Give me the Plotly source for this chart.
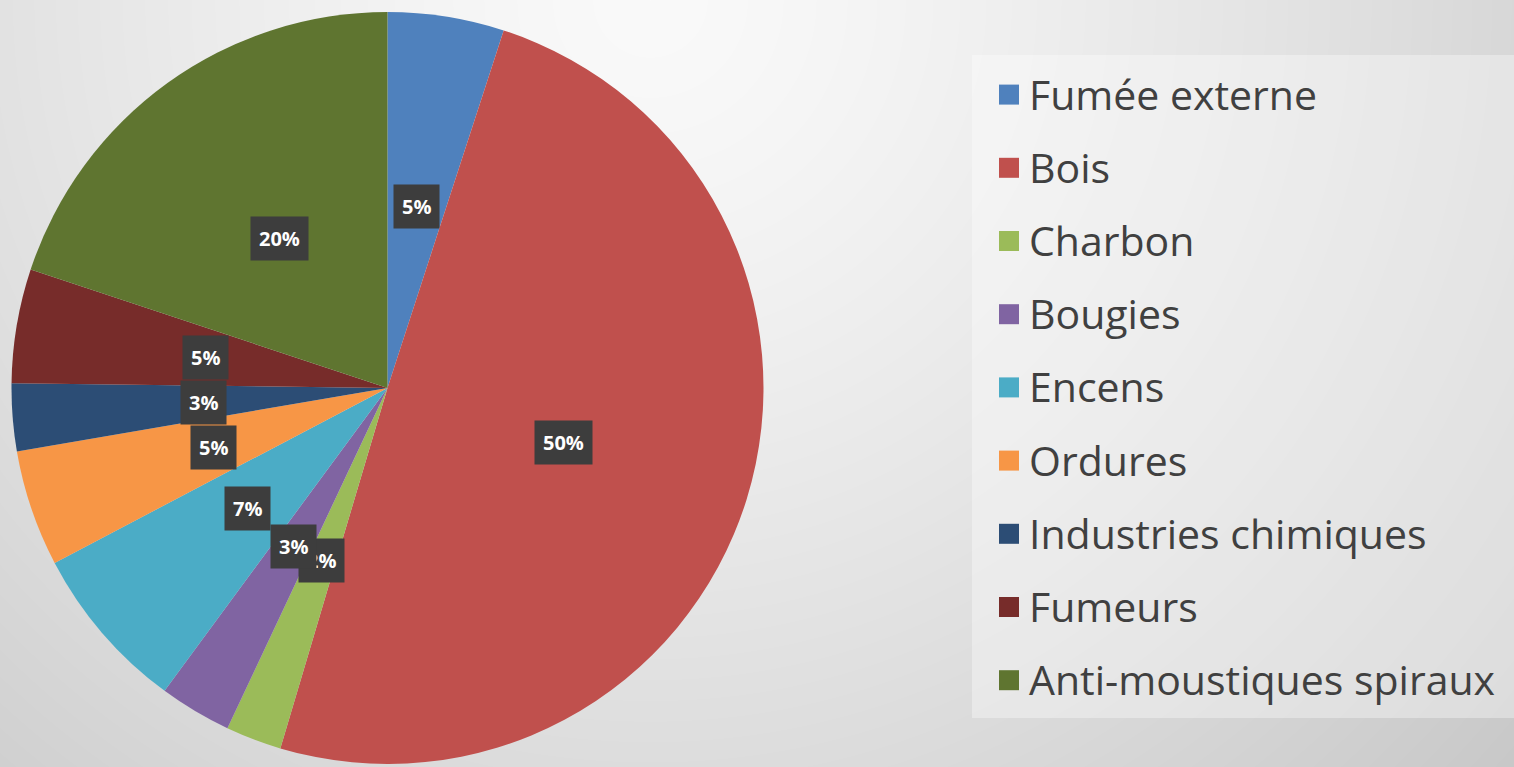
import math, zlib, struct, base64
import numpy as np
import plotly.graph_objects as go

# ---- data ----
categories = ["Fumée externe", "Bois", "Charbon", "Bougies", "Encens", "Ordures",
              "Industries chimiques", "Fumeurs", "Anti-moustiques spiraux"]
values = [5.0, 49.6, 2.4, 3.1, 7.2, 5.0, 2.9, 4.9, 19.9]
colors = ["#4F81BD", "#C0504D", "#9BBB59", "#8064A2", "#4BACC6", "#F79646",
          "#2C4D75", "#772C2A", "#5F7530"]

W, H = 1514, 767

# ---- background gradient image ----
yy, xx = np.mgrid[0:H, 0:W].astype(float)
d = np.sqrt((xx - 650) ** 2 + (yy - 0) ** 2)
bg = 250 - 52 * (d / 1194) ** 1.3
bg = np.clip(bg, 0, 255).astype(np.uint8)

def png_gray(arr):
    h, w = arr.shape
    raw = b"".join(b"\x00" + arr[i].tobytes() for i in range(h))
    def chunk(t, dat):
        c = struct.pack(">I", len(dat)) + t + dat
        return c + struct.pack(">I", zlib.crc32(t + dat) & 0xffffffff)
    return (b"\x89PNG\r\n\x1a\n" + chunk(b"IHDR", struct.pack(">IIBBBBB", w, h, 8, 0, 0, 0, 0))
            + chunk(b"IDAT", zlib.compress(raw, 9)) + chunk(b"IEND", b""))

bg_uri = "data:image/png;base64," + base64.b64encode(png_gray(bg)).decode()

# ---- pie geometry (pixels) ----
pie_x0, pie_x1 = 11, 764
pie_y0, pie_y1 = 12, 764
cx_px = (pie_x0 + pie_x1) / 2
cy_px = (pie_y0 + pie_y1) / 2
R = min(pie_x1 - pie_x0, pie_y1 - pie_y0) / 2

legend_labels = ['<span style="font-size:41px">%s</span>' % c for c in categories]

fig = go.Figure(go.Pie(
    labels=legend_labels,
    values=values,
    sort=False,
    direction="clockwise",
    rotation=0,
    marker=dict(colors=colors, line=dict(width=0)),
    textinfo="none",
    hoverinfo="label+percent",
    domain=dict(x=[pie_x0 / W, pie_x1 / W], y=[1 - pie_y1 / H, 1 - pie_y0 / H]),
))

# ---- percentage labels (computed from the data) ----
total = sum(values)
cum = 0.0
annotations = []
for v in values:
    mid = (cum + v / 2) / total * 2 * math.pi
    cum += v
    px = cx_px + 0.49 * R * math.sin(mid)
    py = cy_px - 0.49 * R * math.cos(mid)
    annotations.append(dict(
        x=px / W, y=1 - py / H, xref="paper", yref="paper",
        text="<b>%d%%</b>" % round(v / total * 100),
        showarrow=False, font=dict(family="Open Sans", size=20, color="white"),
        bgcolor="#3d3d3d", borderpad=8, xanchor="center", yanchor="middle",
    ))

fig.update_layout(
    width=W, height=H,
    margin=dict(l=0, r=0, t=0, b=0),
    paper_bgcolor="#e0e0e0",
    plot_bgcolor="rgba(0,0,0,0)",
    images=[dict(source=bg_uri, xref="paper", yref="paper", x=0, y=1, sizex=1, sizey=1,
                 xanchor="left", yanchor="top", sizing="stretch", layer="below")],
    shapes=[dict(type="rect", xref="paper", yref="paper", x0=972 / W, x1=1, y0=1 - 718 / H,
                 y1=1 - 55 / H, fillcolor="rgba(255,255,255,0.35)", line=dict(width=0),
                 layer="above")],
    annotations=annotations,
    showlegend=True,
    legend=dict(x=989 / W, xanchor="left", y=1 - 53 / H, yanchor="top",
                bgcolor="rgba(0,0,0,0)", borderwidth=0,
                font=dict(family="Open Sans", size=54, color="#404040")),
)

post = """
document.body.style.margin = '0';
document.querySelectorAll('.legend path.legendpie').forEach(function(p){
  p.setAttribute('d', 'M10,10H-10V-10H10Z');
  p.style.strokeWidth = '0px';
});
document.querySelectorAll('.legend text.legendtext').forEach(function(t){
  var y = parseFloat(t.getAttribute('y') || '0');
  t.setAttribute('y', y - 6);
});
"""

fig.write_html("out.html", post_script=post, config={"displayModeBar": False})
